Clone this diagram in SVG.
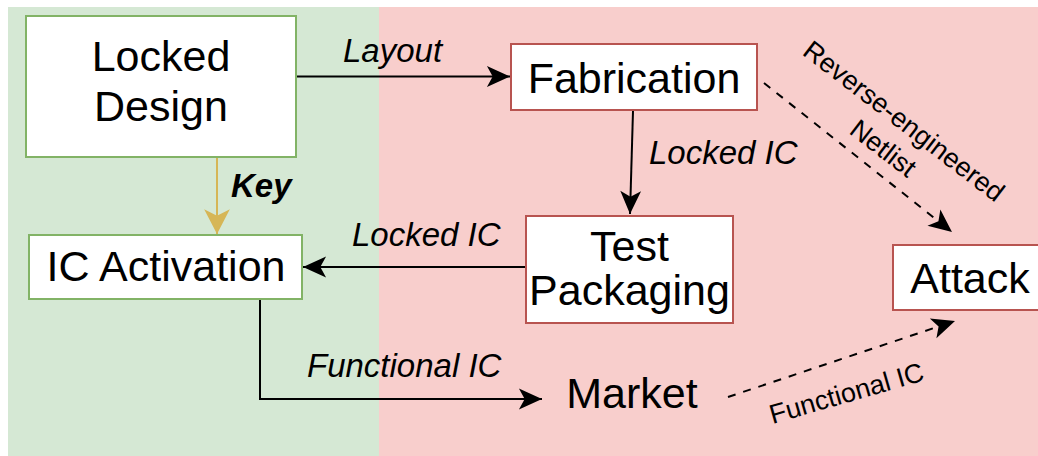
<svg xmlns="http://www.w3.org/2000/svg" width="1038" height="456" viewBox="0 0 1038 456">
<style>
text{font-family:"Liberation Sans",Arial,sans-serif;fill:#000}
.big{font-size:43px;text-anchor:middle}
.lbl{font-size:33px;font-style:italic}
.rot{font-size:27px;text-anchor:middle}
.g{fill:#fff;stroke:#82b366;stroke-width:2}
.r{fill:#fff;stroke:#b85450;stroke-width:2}
.e{fill:none;stroke:#000;stroke-width:2}
.d{fill:none;stroke:#000;stroke-width:2;stroke-dasharray:8 8}
</style>
<defs>
<marker id="ah" markerUnits="userSpaceOnUse" orient="auto" markerWidth="30" markerHeight="30" refX="0" refY="0" viewBox="-24 -12 26 24" overflow="visible">
<path d="M0,0 L-20,-9 L-15,0 L-20,9 Z" fill="#000"/>
</marker>
<marker id="ahg" markerUnits="userSpaceOnUse" orient="auto" markerWidth="30" markerHeight="30" refX="0" refY="0" viewBox="-26 -14 28 28" overflow="visible">
<path d="M0,0 L-23,-12 L-17,0 L-23,12 Z" fill="#d6b656"/>
</marker>
</defs>
<rect x="8" y="7" width="371" height="449" fill="#d5e8d4"/>
<rect x="379" y="7" width="659" height="449" fill="#f8cecc"/>

<g id="connectors">
<line class="e" x1="297" y1="76.5" x2="510" y2="76.5" marker-end="url(#ah)"/>
<line x1="217" y1="157" x2="217" y2="234" stroke="#d6b656" stroke-width="2" marker-end="url(#ahg)"/>
<line class="e" x1="633" y1="111" x2="630" y2="214" marker-end="url(#ah)"/>
<line class="e" x1="525" y1="267" x2="303" y2="267" marker-end="url(#ah)"/>
<polyline class="e" points="260,299 260,399 542,399" marker-end="url(#ah)"/>
<line class="d" x1="764" y1="83" x2="952" y2="232" marker-end="url(#ah)"/>
<line class="d" x1="728" y1="397" x2="955" y2="321" marker-end="url(#ah)"/>
<text class="lbl" x="343" y="62">Layout</text>
<text class="lbl" x="231" y="197" font-weight="bold">Key</text>
<text class="lbl" x="649" y="164">Locked IC</text>
<text class="lbl" x="352" y="246">Locked IC</text>
<text class="lbl" x="307" y="377">Functional IC</text>
<g transform="translate(888,142) rotate(37.5)">
<text class="rot" font-size="28"><tspan x="0" y="-17">Reverse-engineered</tspan><tspan x="0" y="17">Netlist</tspan></text>
</g>
<text class="rot" font-size="26" transform="translate(849,402) rotate(-16)">Functional IC</text>
</g>

<g id="locked-design">
<rect class="g" x="26" y="16" width="270" height="141"/>
<text class="big" x="161" y="71">Locked</text>
<text class="big" x="161" y="121">Design</text>
</g>
<g id="fabrication">
<rect class="r" x="511" y="44" width="246" height="66"/>
<text class="big" x="634" y="93">Fabrication</text>
</g>
<g id="ic-activation">
<rect class="g" x="29" y="235" width="273" height="64"/>
<text class="big" x="166" y="281">IC Activation</text>
</g>
<g id="test-packaging">
<rect class="r" x="526" y="216" width="207" height="107"/>
<text class="big" font-size="36" x="629.5" y="261">Test</text>
<text class="big" font-size="36" x="629.5" y="305">Packaging</text>
</g>
<g id="attack">
<rect class="r" x="893" y="245" width="156" height="65"/>
<text class="big" x="970" y="293">Attack</text>
</g>
<g id="market">
<text class="big" font-size="45" x="632" y="408">Market</text>
</g>
</svg>
